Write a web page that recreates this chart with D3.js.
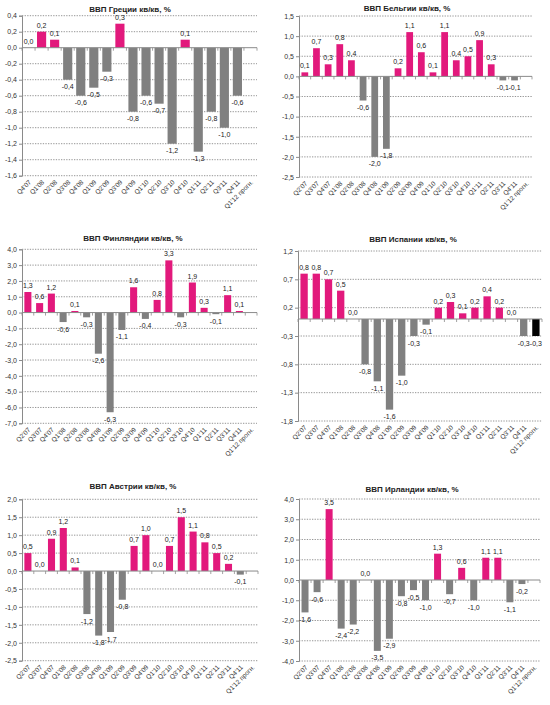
<!DOCTYPE html>
<html><head><meta charset="utf-8">
<script src="https://cdn.jsdelivr.net/npm/d3@7"></script>
<style>body{margin:0;background:#fff} svg{display:block}</style>
</head><body>
<svg id="c" width="550" height="705"></svg>
<script>
// ---------- DATA ----------
const quartersGreece = ["Q4'07","Q1'08","Q2'08","Q3'08","Q4'08","Q1'09","Q2'09","Q3'09","Q4'09","Q1'10","Q2'10","Q3'10","Q4'10","Q1'11","Q2'11","Q3'11","Q4'11","Q1'12 прогн."];
const quarters = ["Q2'07","Q3'07","Q4'07","Q1'08","Q2'08","Q3'08","Q4'08","Q1'09","Q2'09","Q3'09","Q4'09","Q1'10","Q2'10","Q3'10","Q4'10","Q1'11","Q2'11","Q3'11","Q4'11","Q1'12 прогн."];

const greeceValues  = [0.0, 0.2, 0.1, -0.4, -0.6, -0.5, -0.3, 0.3, -0.8, -0.6, -0.7, -1.2, 0.1, -1.3, -0.8, -1.0, -0.6, null];
const belgiumValues = [0.1, 0.7, 0.3, 0.8, 0.4, -0.6, -2.0, -1.8, 0.2, 1.1, 0.6, 0.1, 1.1, 0.4, 0.5, 0.9, 0.3, -0.1, -0.1, null];
const finlandValues = [1.3, 0.6, 1.2, -0.6, 0.1, -0.3, -2.6, -6.3, -1.1, 1.6, -0.4, 0.8, 3.3, -0.3, 1.9, 0.3, -0.1, 1.1, 0.1, null];
const spainValues   = [0.8, 0.8, 0.7, 0.5, 0.0, -0.8, -1.1, -1.6, -1.0, -0.3, -0.1, 0.2, 0.3, 0.1, 0.2, 0.4, 0.2, 0.0, -0.3, -0.3];
const austriaValues = [0.5, 0.0, 0.9, 1.2, 0.1, -1.2, -1.8, -1.7, -0.8, 0.7, 1.0, 0.0, 0.7, 1.5, 1.1, 0.8, 0.5, 0.2, -0.1, null];
const irelandValues = [-1.6, -0.6, 3.5, -2.4, -2.2, 0.0, -3.5, -2.9, -0.8, -0.5, -1.0, 1.3, -0.7, 0.6, -1.0, 1.1, 1.1, -1.1, -0.2, null];

const greeceTicks  = [0.4, 0.2, 0.0, -0.2, -0.4, -0.6, -0.8, -1.0, -1.2, -1.4, -1.6];
const belgiumTicks = [1.5, 1.0, 0.5, 0.0, -0.5, -1.0, -1.5, -2.0, -2.5];
const finlandTicks = [4.0, 3.0, 2.0, 1.0, 0.0, -1.0, -2.0, -3.0, -4.0, -5.0, -6.0, -7.0];
const spainTicks   = [1.2, 0.7, 0.2, -0.3, -0.8, -1.3, -1.8];
const austriaTicks = [2.0, 1.5, 1.0, 0.5, 0.0, -0.5, -1.0, -1.5, -2.0, -2.5];
const irelandTicks = [4.0, 3.0, 2.0, 1.0, 0.0, -1.0, -2.0, -3.0, -4.0];

const titles = ["ВВП Греции  кв/кв, %", "ВВП Бельгии кв/кв, %", "ВВП Финляндии  кв/кв, %", "ВВП Испании кв/кв, %", "ВВП Австрии кв/кв, %", "ВВП Ирландии кв/кв, %"];

// ---------- STYLE ----------
const FONT = "'Liberation Sans', Arial, sans-serif";
const PINK = "#e2197c", GREY = "#808080", FORECAST = "#000000";
const svg = d3.select("#c");
const fmt = v => { const s = d3.format(".1f")(Math.abs(v) < 1e-9 ? 0 : v); return s.replace(".", ",").replace("−", "-"); };

function drawPanel(p) {
  const g = svg.append("g");
  const x = d3.scaleBand().domain(p.cats).range([p.x0, p.x1]).paddingInner(p.pad).paddingOuter(p.pad / 2);
  const y = d3.scaleLinear().domain([p.ticks[p.ticks.length - 1], p.ticks[0]]).range([p.yb, p.yt]);
  const step = x.step();

  // grid
  g.selectAll(".grid").data(p.ticks.filter(t => Math.abs(t) > 1e-9)).join("line")
    .attr("x1", p.x0).attr("x2", p.x1).attr("y1", d => y(d)).attr("y2", d => y(d))
    .attr("stroke", "#7a7a7a").attr("stroke-width", 0.8).attr("stroke-dasharray", "1.3,1.3");

  // y axis
  const ax = g.append("g").attr("transform", `translate(${p.x0},0)`)
    .call(d3.axisLeft(y).tickValues(p.ticks).tickSize(3).tickPadding(2).tickFormat(fmt));
  ax.select(".domain").attr("stroke", "#8a8a8a").attr("stroke-width", 1);
  ax.selectAll(".tick line").attr("stroke", "#8a8a8a");
  ax.selectAll(".tick text").attr("font-family", FONT).attr("font-size", 7).attr("fill", "#333");

  // bars
  const data = p.cats.map((c, i) => ({ c, v: p.values[i] })).filter(d => d.v !== null && d.v !== undefined);
  g.selectAll(".bar").data(data.filter(d => Math.abs(d.v) > 1e-9)).join("rect")
    .attr("x", d => x(d.c)).attr("width", x.bandwidth())
    .attr("y", d => y(Math.max(0, d.v))).attr("height", d => Math.abs(y(d.v) - y(0)))
    .attr("fill", d => d.c.includes("прогн") ? FORECAST : (d.v > 0 ? PINK : GREY));

  // zero (category) axis line + ticks
  g.append("line").attr("x1", p.x0).attr("x2", p.x1).attr("y1", y(0)).attr("y2", y(0))
    .attr("stroke", "#8a8a8a").attr("stroke-width", 1);
  g.selectAll(".ctick").data(d3.range(p.cats.length + 1)).join("line")
    .attr("x1", i => p.x0 + i * step).attr("x2", i => p.x0 + i * step)
    .attr("y1", y(0)).attr("y2", y(0) + 3).attr("stroke", "#8a8a8a").attr("stroke-width", 0.8);

  // category labels (at bottom)
  g.selectAll(".clab").data(p.cats).join("text")
    .attr("transform", c => `translate(${x(c) + x.bandwidth() / 2 + 3},${p.yb + 7}) rotate(-45)`)
    .attr("text-anchor", "end").attr("font-family", FONT).attr("font-size", 6.5).attr("fill", "#333")
    .text(c => c);

  // data labels
  g.selectAll(".dlab").data(data).join("text")
    .attr("x", d => x(d.c) + x.bandwidth() / 2)
    .attr("y", d => d.v >= 0 ? y(d.v) - 4 : y(d.v) + 9.5)
    .attr("text-anchor", "middle").attr("font-family", FONT).attr("font-size", 7).attr("fill", "#1a1a1a")
    .text(d => fmt(d.v));

  // title
  g.append("text").attr("x", p.tx).attr("y", p.ty).attr("text-anchor", "middle")
    .attr("font-family", FONT).attr("font-size", 8).attr("font-weight", "bold").attr("fill", "#222")
    .text(p.title);
}

const panels = [
  { title: titles[0], cats: quartersGreece, values: greeceValues, ticks: greeceTicks, x0: 22, x1: 257, yt: 15.7, yb: 175.7, pad: 0.3, tx: 130, ty: 12 },
  { title: titles[1], cats: quarters, values: belgiumValues, ticks: belgiumTicks, x0: 299, x1: 532, yt: 16, yb: 177, pad: 0.42, tx: 407, ty: 11 },
  { title: titles[2], cats: quarters, values: finlandValues, ticks: finlandTicks, x0: 22, x1: 257, yt: 249.3, yb: 423.3, pad: 0.4, tx: 133, ty: 241 },
  { title: titles[3], cats: quarters, values: spainValues, ticks: spainTicks, x0: 298, x1: 542, yt: 251, yb: 421, pad: 0.4, tx: 413, ty: 242 },
  { title: titles[4], cats: quarters, values: austriaValues, ticks: austriaTicks, x0: 22, x1: 258, yt: 499.3, yb: 660.7, pad: 0.4, tx: 133, ty: 489 },
  { title: titles[5], cats: quarters, values: irelandValues, ticks: irelandTicks, x0: 299, x1: 540, yt: 499, yb: 661, pad: 0.42, tx: 412, ty: 492 }
];
panels.forEach(drawPanel);
</script>
</body></html>
